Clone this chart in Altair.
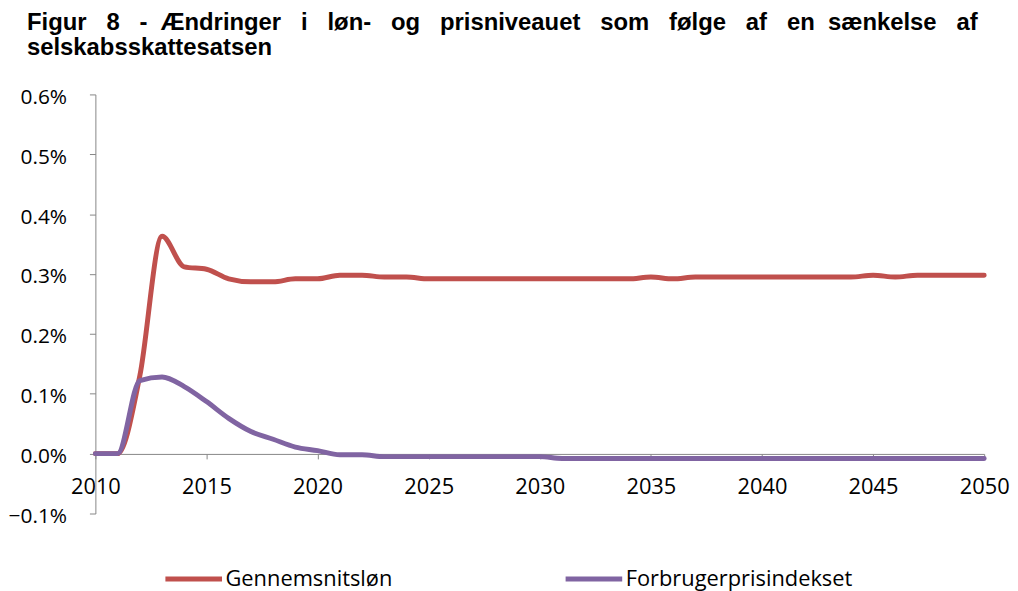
import altair as alt
import pandas as pd

years = list(range(2010, 2051))
wage = [0.0, 0.0, 0.13, 0.363, 0.312, 0.308, 0.292, 0.287, 0.287, 0.292,
        0.292, 0.298, 0.298, 0.295, 0.295, 0.292, 0.292, 0.292, 0.292, 0.292,
        0.292, 0.292, 0.292, 0.292, 0.292, 0.295, 0.292, 0.295, 0.295, 0.295,
        0.295, 0.295, 0.295, 0.295, 0.295, 0.298, 0.295, 0.298, 0.298, 0.298,
        0.298]
cpi = [0.0, 0.0, 0.122, 0.128, 0.112, 0.087, 0.059, 0.037, 0.024, 0.011,
       0.005, -0.002, -0.002, -0.005, -0.005, -0.005, -0.005, -0.005, -0.005, -0.005,
       -0.005, -0.008, -0.008, -0.008, -0.008, -0.008, -0.008, -0.008, -0.008, -0.008,
       -0.008, -0.008, -0.008, -0.008, -0.008, -0.008, -0.008, -0.008, -0.008, -0.008,
       -0.008]
series = ["Gennemsnitsløn", "Forbrugerprisindekset"]
colors = ["#C0504D", "#8064A2"]
y_ticks = [-0.1, 0.0, 0.1, 0.2, 0.3, 0.4, 0.5, 0.6]
x_ticks = [2010, 2015, 2020, 2025, 2030, 2035, 2040, 2045, 2050]
title_words = ["Figur", "8", "-", "Ændringer", "i", "løn-", "og", "prisniveauet",
               "som", "følge", "af", "en", "sænkelse", "af"]
title_line2 = "selskabsskattesatsen"

df = pd.DataFrame({
    "year": years * 2,
    "value": wage + cpi,
    "series": [series[0]] * len(years) + [series[1]] * len(years),
})

# justified first title line: widen word gaps with non-breaking spaces
gaps = [3, 3, 2, 3, 3, 3, 3, 3, 3, 3, 3, 2, 3]
title_line1 = title_words[0]
for w, g in zip(title_words[1:], gaps):
    title_line1 += "\u00a0" * g + w

font = "Open Sans"

chart = alt.Chart(df).mark_line(strokeWidth=5, interpolate="monotone", strokeCap="round").encode(
    x=alt.X("year:Q", scale=alt.Scale(domain=[2010, 2050], nice=False, zero=False),
            axis=alt.Axis(values=x_ticks, format="d", title=None, grid=False, offset=-60,
                          labelFontSize=22, labelFont=font, labelColor="#000000",
                          domainColor="#868686", tickColor="#868686", tickSize=5,
                          labelPadding=18, labelFlush=False)),
    y=alt.Y("value:Q", scale=alt.Scale(domain=[-0.1, 0.6], nice=False),
            axis=alt.Axis(values=y_ticks, title=None, grid=False,
                          labelExpr="format(datum.value, '.1f') + '%'",
                          labelFontSize=21, labelFont=font, labelColor="#000000",
                          domainColor="#868686", tickColor="#868686", tickSize=6,
                          labelPadding=23, labelOffset=3, minExtent=84, maxExtent=84)),
    color=alt.Color("series:N", sort=series,
                    scale=alt.Scale(domain=series, range=colors),
                    legend=alt.Legend(orient="none", legendX=68, legendY=457, direction="horizontal",
                                      columns=2, columnPadding=163, title=None,
                                      symbolType="stroke", symbolSize=3249, symbolStrokeWidth=5,
                                      labelFontSize=22, labelFont=font, labelColor="#000000",
                                      labelOffset=1, labelLimit=400)),
).properties(
    width=895, height=422,
    padding={"left": 0, "top": 1, "right": 0, "bottom": 0},
    title=alt.TitleParams(text=[title_line1, title_line2], anchor="start", frame="bounds",
                          font="Liberation Sans", fontSize=24, fontWeight="bold", color="#000000",
                          lineHeight=25, offset=27, dx=19),
).configure_view(stroke=None)

chart.save("out.html", embed_options={"renderer": "svg", "actions": False})
